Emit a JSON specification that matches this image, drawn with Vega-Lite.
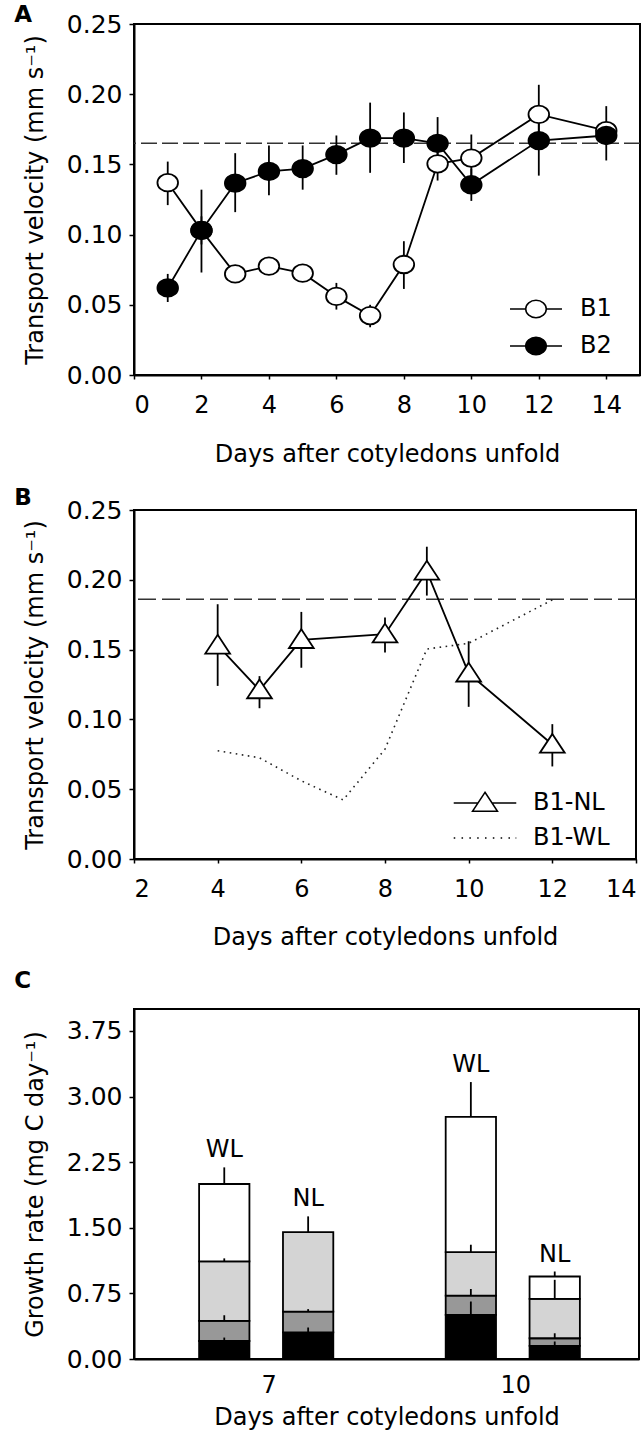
{
  "$schema": "https://vega.github.io/schema/vega-lite/v6.json",
  "background": "white",
  "padding": {"left": 13, "top": 3, "right": 0, "bottom": 2},
  "config": {
    "font": "DejaVu Sans",
    "view": {"stroke": "black", "strokeWidth": 2},
    "axis": {"grid": false, "domainColor": "black", "domainWidth": 2, "tickColor": "black", "tickWidth": 1.5, "labelFontSize": 24, "labelColor": "black", "titleFontSize": 24, "titleFontWeight": "normal", "titleColor": "black"},
    "axisX": {"labelPadding": 14, "titlePadding": 22, "tickSize": 4},
    "axisY": {"labelPadding": 7, "titlePadding": 19, "tickSize": 5, "labelFontSize": 25},
    "title": {"fontSize": 23, "fontWeight": "bold", "anchor": "start", "frame": "bounds", "color": "black", "dx": -9},
    "concat": {"spacing": 19},
    "legend": {"labelFontSize": 24, "labelColor": "black", "title": null, "padding": 0}
  },
  "resolve": {"scale": {"fill": "independent", "shape": "independent"}, "legend": {"fill": "independent", "shape": "independent"}},
  "datasets": {
    "A": [
      {"s": "B1", "day": 1, "v": 0.137, "lo": 0.121, "hi": 0.152},
      {"s": "B1", "day": 2, "v": 0.103, "lo": 0.093, "hi": 0.113},
      {"s": "B1", "day": 3, "v": 0.072, "lo": 0.068, "hi": 0.076},
      {"s": "B1", "day": 4, "v": 0.0775, "lo": 0.073, "hi": 0.082},
      {"s": "B1", "day": 5, "v": 0.0725, "lo": 0.068, "hi": 0.077},
      {"s": "B1", "day": 6, "v": 0.056, "lo": 0.0466, "hi": 0.0656},
      {"s": "B1", "day": 7, "v": 0.0423, "lo": 0.034, "hi": 0.05},
      {"s": "B1", "day": 8, "v": 0.0787, "lo": 0.0613, "hi": 0.0953},
      {"s": "B1", "day": 9, "v": 0.1504, "lo": 0.1385, "hi": 0.162},
      {"s": "B1", "day": 10, "v": 0.1545, "lo": 0.138, "hi": 0.1713},
      {"s": "B1", "day": 12, "v": 0.1856, "lo": 0.1644, "hi": 0.2067},
      {"s": "B1", "day": 14, "v": 0.174, "lo": 0.168, "hi": 0.18},
      {"s": "B2", "day": 1, "v": 0.062, "lo": 0.052, "hi": 0.072},
      {"s": "B2", "day": 2, "v": 0.103, "lo": 0.073, "hi": 0.132},
      {"s": "B2", "day": 3, "v": 0.1366, "lo": 0.116, "hi": 0.158},
      {"s": "B2", "day": 4, "v": 0.145, "lo": 0.128, "hi": 0.1635},
      {"s": "B2", "day": 5, "v": 0.147, "lo": 0.132, "hi": 0.1635},
      {"s": "B2", "day": 6, "v": 0.157, "lo": 0.1426, "hi": 0.1706},
      {"s": "B2", "day": 7, "v": 0.1687, "lo": 0.144, "hi": 0.194},
      {"s": "B2", "day": 8, "v": 0.1687, "lo": 0.151, "hi": 0.187},
      {"s": "B2", "day": 9, "v": 0.165, "lo": 0.146, "hi": 0.1837},
      {"s": "B2", "day": 10, "v": 0.1355, "lo": 0.124, "hi": 0.147},
      {"s": "B2", "day": 12, "v": 0.167, "lo": 0.142, "hi": 0.192},
      {"s": "B2", "day": 14, "v": 0.1706, "lo": 0.1528, "hi": 0.1915}
    ],
    "B": [
      {"s": "B1-NL", "day": 4, "v": 0.153, "lo": 0.124, "hi": 0.1825},
      {"s": "B1-NL", "day": 5, "v": 0.121, "lo": 0.108, "hi": 0.131},
      {"s": "B1-NL", "day": 6, "v": 0.157, "lo": 0.137, "hi": 0.177},
      {"s": "B1-NL", "day": 8, "v": 0.161, "lo": 0.148, "hi": 0.173},
      {"s": "B1-NL", "day": 9, "v": 0.206, "lo": 0.1887, "hi": 0.2237},
      {"s": "B1-NL", "day": 10, "v": 0.133, "lo": 0.109, "hi": 0.156},
      {"s": "B1-NL", "day": 12, "v": 0.082, "lo": 0.0663, "hi": 0.0966},
      {"s": "B1-WL", "day": 4, "v": 0.0775},
      {"s": "B1-WL", "day": 5, "v": 0.0725},
      {"s": "B1-WL", "day": 6, "v": 0.056},
      {"s": "B1-WL", "day": 7, "v": 0.0423},
      {"s": "B1-WL", "day": 8, "v": 0.0787},
      {"s": "B1-WL", "day": 9, "v": 0.1504},
      {"s": "B1-WL", "day": 10, "v": 0.1545},
      {"s": "B1-WL", "day": 12, "v": 0.1856}
    ],
    "C": [
      {"day": "7", "trt": "WL", "comp": "c1", "lo": 0, "hi": 0.206, "errhi": 0.245},
      {"day": "7", "trt": "WL", "comp": "c2", "lo": 0.206, "hi": 0.435, "errhi": 0.5},
      {"day": "7", "trt": "WL", "comp": "c3", "lo": 0.435, "hi": 1.115, "errhi": 1.15},
      {"day": "7", "trt": "WL", "comp": "c4", "lo": 1.115, "hi": 2.0, "errhi": 2.19, "label": "WL"},
      {"day": "7", "trt": "NL", "comp": "c1", "lo": 0, "hi": 0.305, "errhi": 0.36},
      {"day": "7", "trt": "NL", "comp": "c2", "lo": 0.305, "hi": 0.542, "errhi": 0.57},
      {"day": "7", "trt": "NL", "comp": "c3", "lo": 0.542, "hi": 1.451, "errhi": 1.63, "label": "NL"},
      {"day": "10", "trt": "WL", "comp": "c1", "lo": 0, "hi": 0.504, "errhi": 0.657},
      {"day": "10", "trt": "WL", "comp": "c2", "lo": 0.504, "hi": 0.725, "errhi": 0.8},
      {"day": "10", "trt": "WL", "comp": "c3", "lo": 0.725, "hi": 1.222, "errhi": 1.306},
      {"day": "10", "trt": "WL", "comp": "c4", "lo": 1.222, "hi": 2.768, "errhi": 3.165, "label": "WL"},
      {"day": "10", "trt": "NL", "comp": "c1", "lo": 0, "hi": 0.149, "errhi": 0.2},
      {"day": "10", "trt": "NL", "comp": "c2", "lo": 0.149, "hi": 0.237, "errhi": 0.294},
      {"day": "10", "trt": "NL", "comp": "c3", "lo": 0.237, "hi": 0.687, "errhi": 0.905},
      {"day": "10", "trt": "NL", "comp": "c4", "lo": 0.687, "hi": 0.943, "errhi": 1.0, "label": "NL"}
    ]
  },
  "vconcat": [
    {
      "width": 506,
      "height": 351,
      "title": {"text": "A", "offset": -15},
      "layer": [
        {
          "data": {"values": [{}]},
          "mark": {"type": "rule", "color": "#333333", "strokeWidth": 1.5, "strokeDash": [16, 5]},
          "encoding": {"y": {"datum": 0.165, "type": "quantitative"}}
        },
        {
          "data": {"name": "A"},
          "mark": {"type": "rule", "color": "black", "strokeWidth": 1.8},
          "encoding": {
            "x": {"field": "day", "type": "quantitative", "scale": {"domain": [0, 15], "nice": false}, "axis": {"values": [0, 2, 4, 6, 8, 10, 12, 14], "titlePadding": 25, "title": "Days after cotyledons unfold"}},
            "y": {"field": "lo", "type": "quantitative", "scale": {"domain": [0, 0.25], "nice": false}, "axis": {"values": [0, 0.05, 0.1, 0.15, 0.2, 0.25], "format": ".2f", "title": "Transport velocity (mm s⁻¹)"}},
            "y2": {"field": "hi"}
          }
        },
        {
          "data": {"name": "A"},
          "mark": {"type": "line", "color": "black", "strokeWidth": 1.8},
          "encoding": {
            "x": {"field": "day", "type": "quantitative"},
            "y": {"field": "v", "type": "quantitative"},
            "detail": {"field": "s"}
          }
        },
        {
          "data": {"name": "A"},
          "mark": {"type": "point", "filled": true, "shape": "M1,0A1,0.85,0,1,1,-1,0A1,0.85,0,1,1,1,0Z", "size": 424, "stroke": "black", "strokeWidth": 1.8, "opacity": 1},
          "encoding": {
            "x": {"field": "day", "type": "quantitative"},
            "y": {"field": "v", "type": "quantitative"},
            "fill": {"field": "s", "type": "nominal", "scale": {"domain": ["B1", "B2"], "range": ["white", "black"]},
              "legend": {"orient": "none", "legendX": 383, "legendY": 266, "symbolType": "M-1.444,0H-0.57M0.57,0H1.444M0.57,0A0.57,0.485,0,1,1,-0.57,0A0.57,0.485,0,1,1,0.57,0Z", "symbolSize": 1296, "labelOffset": 25, "rowPadding": 6,
                "encode": {"symbols": {"update": {"stroke": {"value": "black"}, "strokeWidth": {"value": 1.8}, "opacity": {"value": 1}}}}}}
          }
        }
      ]
    },
    {
      "width": 502,
      "height": 349,
      "title": {"text": "B", "offset": -12},
      "layer": [
        {
          "data": {"values": [{}]},
          "mark": {"type": "rule", "color": "#333333", "strokeWidth": 1.5, "strokeDash": [18, 6]},
          "encoding": {"y": {"datum": 0.186, "type": "quantitative"}}
        },
        {
          "data": {"name": "B"},
          "transform": [{"filter": "datum.s === 'B1-WL'"}],
          "mark": {"type": "line", "color": "#222222", "strokeWidth": 1.6, "strokeDash": [1.6, 4.5]},
          "encoding": {
            "x": {"field": "day", "type": "quantitative", "scale": {"domain": [2, 14], "nice": false}, "axis": {"values": [2, 4, 6, 8, 10, 12, 14], "titlePadding": 24, "title": "Days after cotyledons unfold"}},
            "y": {"field": "v", "type": "quantitative", "scale": {"domain": [0, 0.25], "nice": false}, "axis": {"values": [0, 0.05, 0.1, 0.15, 0.2, 0.25], "format": ".2f", "title": "Transport velocity (mm s⁻¹)"}}
          }
        },
        {
          "data": {"name": "B"},
          "transform": [{"filter": "datum.s === 'B1-NL'"}],
          "mark": {"type": "rule", "color": "black", "strokeWidth": 1.8},
          "encoding": {
            "x": {"field": "day", "type": "quantitative"},
            "y": {"field": "lo", "type": "quantitative"},
            "y2": {"field": "hi"}
          }
        },
        {
          "data": {"name": "B"},
          "transform": [{"filter": "datum.s === 'B1-NL'"}],
          "mark": {"type": "line", "color": "black", "strokeWidth": 1.8},
          "encoding": {
            "x": {"field": "day", "type": "quantitative"},
            "y": {"field": "v", "type": "quantitative"}
          }
        },
        {
          "data": {"name": "B"},
          "transform": [{"filter": "datum.s === 'B1-NL'"}],
          "mark": {"type": "point", "filled": true, "fill": "white", "stroke": "black", "strokeWidth": 1.8, "size": 610, "opacity": 1, "shape": "M0,-0.86L1,0.66L-1,0.66Z"},
          "encoding": {
            "x": {"field": "day", "type": "quantitative"},
            "y": {"field": "v", "type": "quantitative"}
          }
        },
        {
          "data": {"name": "B"},
          "transform": [{"filter": "false"}],
          "mark": {"type": "point", "filled": true, "fill": "white", "stroke": "black", "strokeWidth": 1.8, "opacity": 1},
          "encoding": {
            "x": {"field": "day", "type": "quantitative"},
            "y": {"field": "v", "type": "quantitative"},
            "shape": {"field": "s", "type": "nominal", "scale": {"domain": ["B1-NL", "B1-WL"], "range": ["M-1.84,0H-0.416M0.416,0H1.84M0,-0.632L0.735,0.485L-0.735,0.485Z", "M-1.84,0h0.09M-1.38,0h0.09M-0.92,0h0.09M-0.46,0h0.09M0,0h0.09M0.46,0h0.09M0.92,0h0.09M1.38,0h0.09M1.8,0h0.04"]},
              "legend": {"orient": "none", "legendX": 333, "legendY": 275, "symbolSize": 1156, "labelOffset": 30, "rowPadding": 5,
                "encode": {"symbols": {"update": {"fill": {"value": "white"}, "stroke": {"value": "black"}, "strokeWidth": {"value": 1.8}, "opacity": {"value": 1}}}}}}
          }
        }
      ]
    },
    {
      "width": 505,
      "height": 350,
      "title": {"text": "C", "offset": 16},
      "data": {"name": "C"},
      "layer": [
        {
          "mark": {"type": "bar", "stroke": "black", "strokeWidth": 1.8},
          "encoding": {
            "x": {"field": "day", "type": "nominal", "sort": ["7", "10"], "scale": {"paddingInner": 0, "paddingOuter": 0.024, "align": 1}, "axis": {"labelAngle": 0, "ticks": false, "titlePadding": 8, "title": "Days after cotyledons unfold"}},
            "xOffset": {"field": "trt", "type": "nominal", "sort": ["WL", "NL"], "scale": {"paddingInner": 0.4, "paddingOuter": 0.67, "align": 0.474}},
            "y": {"field": "hi", "type": "quantitative", "scale": {"domain": [0, 4], "nice": false}, "axis": {"values": [0, 0.75, 1.5, 2.25, 3, 3.75], "format": ".2f", "title": "Growth rate (mg C day⁻¹)"}},
            "y2": {"field": "lo"},
            "fill": {"field": "comp", "type": "nominal", "scale": {"domain": ["c1", "c2", "c3", "c4"], "range": ["black", "#989898", "#d4d4d4", "white"]}, "legend": null}
          }
        },
        {
          "mark": {"type": "rule", "color": "black", "strokeWidth": 1.8},
          "encoding": {
            "x": {"field": "day", "type": "nominal", "sort": ["7", "10"]},
            "xOffset": {"field": "trt", "type": "nominal", "sort": ["WL", "NL"]},
            "y": {"field": "hi", "type": "quantitative"},
            "y2": {"field": "errhi"}
          }
        },
        {
          "transform": [{"filter": "datum.label"}],
          "mark": {"type": "text", "fontSize": 24, "baseline": "alphabetic", "dy": -10, "color": "black"},
          "encoding": {
            "x": {"field": "day", "type": "nominal", "sort": ["7", "10"]},
            "xOffset": {"field": "trt", "type": "nominal", "sort": ["WL", "NL"]},
            "y": {"field": "errhi", "type": "quantitative"},
            "text": {"field": "label"}
          }
        }
      ]
    }
  ]
}
